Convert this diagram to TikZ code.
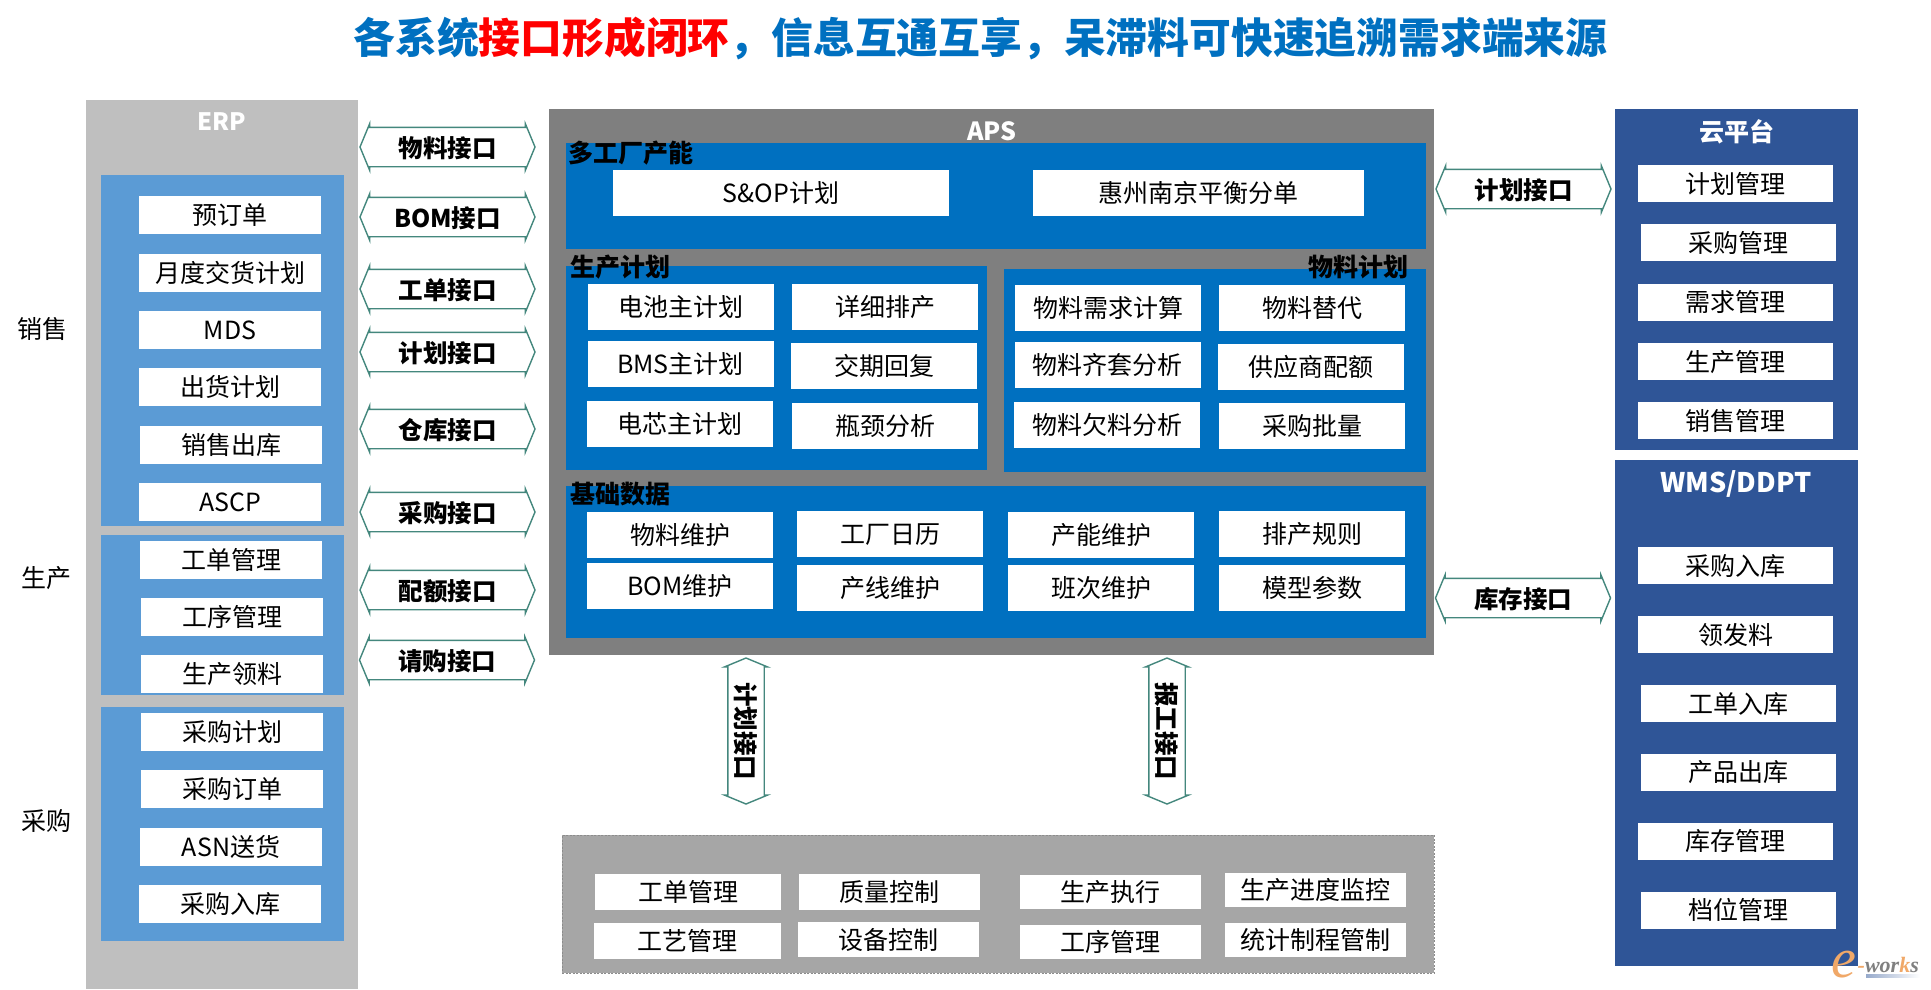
\documentclass[tikz,border=0pt]{standalone}
\usepackage{fontspec}
\setmainfont{Noto Sans CJK SC}
\newfontfamily\worksfont{Liberation Serif}
\usetikzlibrary{shapes.arrows}

\definecolor{erpgray}{HTML}{BFBFBF}
\definecolor{erpblue}{HTML}{5B9BD5}
\definecolor{apsgray}{HTML}{7F7F7F}
\definecolor{apsblue}{HTML}{0070C0}
\definecolor{mesgray}{HTML}{A6A6A6}
\definecolor{sysblue}{HTML}{2F5597}
\definecolor{ifteal}{HTML}{44877D}
\definecolor{logogray}{HTML}{808080}
\definecolor{logoorange}{HTML}{F0A868}

\begin{document}
\begin{tikzpicture}[x=1pt,y=-1pt]

		\tikzstyle{panel}=[rectangle,draw=none,inner sep=0mm]
		\tikzstyle{module}=[rectangle,
			fill=white,inner sep=0mm,
			text height=22.5pt,text depth=3pt,
			font=\fontsize{25pt}{30pt}\selectfont]
		\tikzstyle{erpmodule}=[module,minimum width=182pt,minimum height=38pt]
		\tikzstyle{apsmodule}=[module,minimum width=186pt,minimum height=46pt]
		\tikzstyle{mesmodule}=[module,minimum width=181pt,minimum height=34pt]
		\tikzstyle{sysmodule}=[module,minimum width=195pt,minimum height=37pt]
		\tikzstyle{heading}=[inner sep=0mm,font=\fontsize{25pt}{30pt}\selectfont\bfseries]
		\tikzstyle{sidelabel}=[inner sep=0mm,font=\fontsize{25pt}{30pt}\selectfont]
		\tikzstyle{interface}=[double arrow,
			draw=ifteal,fill=white,line width=1.4pt,
			double arrow head extend=3.5pt,double arrow tip angle=135,
			minimum height=175pt,inner xsep=0mm,inner ysep=4pt,
			text height=25pt,text depth=5pt,
			font=\fontsize{24.5pt}{30pt}\selectfont\bfseries]

		\useasboundingbox (0,0) rectangle (1931,989);

		\node[inner sep=0mm,font=\fontsize{41.8pt}{50pt}\selectfont\bfseries,text=apsblue]	(title)	at (980.5,39)
			{各系统\textcolor{red}{接口形成闭环}，信息互通互享，呆滞料可快速追溯需求端来源};

		% panels
		\node[panel,fill=erpgray,minimum width=272pt,minimum height=889pt]	(erp)	at (222,544.5)	{};
		\node[panel,fill=erpblue,minimum width=243pt,minimum height=351pt]	(sales)	at (222.5,350.5)	{};
		\node[panel,fill=erpblue,minimum width=243pt,minimum height=160pt]	(prod)	at (222.5,615)	{};
		\node[panel,fill=erpblue,minimum width=243pt,minimum height=234pt]	(purch)	at (222.5,824)	{};
		\node[panel,fill=apsgray,minimum width=885pt,minimum height=546pt]	(aps)	at (991.5,382)	{};
		\node[panel,fill=apsblue,minimum width=860pt,minimum height=106pt]	(multi)	at (996,196)	{};
		\node[panel,fill=apsblue,minimum width=421pt,minimum height=204pt]	(plan)	at (776.5,368)	{};
		\node[panel,fill=apsblue,minimum width=422pt,minimum height=203pt]	(material)	at (1215,370.5)	{};
		\node[panel,fill=apsblue,minimum width=860pt,minimum height=152pt]	(base)	at (996,562)	{};
		\node[panel,fill=mesgray,draw=gray!90,line width=1pt,dash pattern=on 2pt off 1.5pt,minimum width=872pt,minimum height=138pt]	(mes)	at (998,904)	{};
		\node[panel,fill=sysblue,minimum width=243pt,minimum height=341pt]	(cloud)	at (1736.5,279.5)	{};
		\node[panel,fill=sysblue,minimum width=243pt,minimum height=506pt]	(wms)	at (1736.5,713)	{};

		% headings
		\node[heading,text=white,font=\fontsize{24pt}{30pt}\selectfont\bfseries]	(erp-t)	at (222,122)	{ERP};
		\node[heading,text=white]	(aps-t)	at (992,131)	{APS};
		\node[heading]	(multi-t)	at (631,153)	{多工厂产能};
		\node[heading]	(plan-t)	at (620,267)	{生产计划};
		\node[heading]	(material-t)	at (1358,267)	{物料计划};
		\node[heading]	(base-t)	at (620,494)	{基础数据};
		\node[heading,text=white]	(cloud-t)	at (1737,132)	{云平台};
		\node[heading,text=white,font=\fontsize{27pt}{30pt}\selectfont\bfseries]	(wms-t)	at (1736,484)	{WMS/DDPT};

		\node[sidelabel]	(sales-l)	at (42,329)	{销售};
		\node[sidelabel]	(prod-l)	at (46,578)	{生产};
		\node[sidelabel]	(purch-l)	at (46,821)	{采购};

		% ERP
		\node[erpmodule]	(order)	at (230,215)	{预订单};
		\node[erpmodule]	(monthly)	at (230,273)	{月度交货计划};
		\node[erpmodule]	(mds)	at (230,330)	{MDS};
		\node[erpmodule]	(ship)	at (230,387)	{出货计划};
		\node[erpmodule]	(out)	at (231,445)	{销售出库};
		\node[erpmodule]	(ascp)	at (230,502)	{ASCP};
		\node[erpmodule]	(wo)	at (231,560)	{工单管理};
		\node[erpmodule]	(step)	at (232,617)	{工序管理};
		\node[erpmodule]	(pick)	at (232,674)	{生产领料};
		\node[erpmodule]	(pplan)	at (232,732)	{采购计划};
		\node[erpmodule]	(porder)	at (232,789)	{采购订单};
		\node[erpmodule]	(asn)	at (231,847)	{ASN送货};
		\node[erpmodule]	(pin)	at (230,904)	{采购入库};

		% APS
		\node[apsmodule,minimum width=336pt]	(sop)	at (781,193)	{S\&OP计划};
		\node[apsmodule,minimum width=331pt]	(split)	at (1198.5,193)	{惠州南京平衡分单};

		\node[apsmodule]	(battery)	at (681,307)	{电池主计划};
		\node[apsmodule]	(detail)	at (885,307)	{详细排产};
		\node[apsmodule]	(bms)	at (680.5,364)	{BMS主计划};
		\node[apsmodule]	(reply)	at (884,365.5)	{交期回复};
		\node[apsmodule]	(cell)	at (680,424)	{电芯主计划};
		\node[apsmodule]	(neck)	at (885,426)	{瓶颈分析};

		\node[apsmodule]	(mrp)	at (1108,308)	{物料需求计算};
		\node[apsmodule]	(subst)	at (1312,308)	{物料替代};
		\node[apsmodule]	(kit)	at (1107.5,365)	{物料齐套分析};
		\node[apsmodule]	(quota)	at (1311,366.5)	{供应商配额};
		\node[apsmodule]	(short)	at (1107,425)	{物料欠料分析};
		\node[apsmodule]	(batch)	at (1312,426)	{采购批量};

		\node[apsmodule]	(m-item)	at (680,535)	{物料维护};
		\node[apsmodule]	(calendar)	at (890,534)	{工厂日历};
		\node[apsmodule]	(capacity)	at (1101,535)	{产能维护};
		\node[apsmodule]	(rule)	at (1312,534)	{排产规则};
		\node[apsmodule]	(m-bom)	at (680,586)	{BOM维护};
		\node[apsmodule]	(line)	at (890,588)	{产线维护};
		\node[apsmodule]	(shift)	at (1101,587.5)	{班次维护};
		\node[apsmodule]	(param)	at (1312,587.5)	{模型参数};

		% MES
		\node[mesmodule,minimum width=186pt,minimum height=36pt]	(mes-wo)	at (688,892)	{工单管理};
		\node[mesmodule,minimum height=36pt]	(quality)	at (889.5,892)	{质量控制};
		\node[mesmodule]	(exec)	at (1110.5,891.5)	{生产执行};
		\node[mesmodule]	(monitor)	at (1315.5,889.5)	{生产进度监控};
		\node[mesmodule,minimum width=187pt,minimum height=36pt]	(craft)	at (687.5,941)	{工艺管理};
		\node[mesmodule,minimum height=35pt]	(device)	at (888.5,939.5)	{设备控制};
		\node[mesmodule]	(mes-step)	at (1110.5,941.5)	{工序管理};
		\node[mesmodule]	(spc)	at (1315.5,939.5)	{统计制程管制};

		% cloud and WMS
		\node[sysmodule]	(c-plan)	at (1735.5,183.5)	{计划管理};
		\node[sysmodule]	(c-purch)	at (1738.5,242.5)	{采购管理};
		\node[sysmodule]	(c-need)	at (1735.5,302)	{需求管理};
		\node[sysmodule]	(c-prod)	at (1735.5,361.5)	{生产管理};
		\node[sysmodule]	(c-sales)	at (1735.5,420.5)	{销售管理};
		\node[sysmodule]	(w-pin)	at (1735.5,565.5)	{采购入库};
		\node[sysmodule]	(w-issue)	at (1735.5,634.5)	{领发料};
		\node[sysmodule]	(w-wo)	at (1738.5,703.5)	{工单入库};
		\node[sysmodule]	(w-out)	at (1738.5,772)	{产品出库};
		\node[sysmodule]	(w-stock)	at (1735.5,841)	{库存管理};
		\node[sysmodule]	(w-bin)	at (1738.5,910)	{档位管理};

		% interfaces
		\node[interface]	(if-item)	at (447.5,147)	{物料接口};
		\node[interface]	(if-bom)	at (447.5,217)	{BOM接口};
		\node[interface]	(if-wo)	at (447.5,289)	{工单接口};
		\node[interface]	(if-plan)	at (447.5,352)	{计划接口};
		\node[interface]	(if-ware)	at (447.5,429)	{仓库接口};
		\node[interface]	(if-purch)	at (447.5,512)	{采购接口};
		\node[interface]	(if-quota)	at (447.5,590)	{配额接口};
		\node[interface]	(if-req)	at (447,660)	{请购接口};
		\node[interface]	(if-cloud)	at (1523.5,189)	{计划接口};
		\node[interface]	(if-stock)	at (1523,598)	{库存接口};
		\node[interface,rotate=-90,minimum height=146pt,inner ysep=2.5pt]	(if-down)	at (746,731)	{计划接口};
		\node[interface,rotate=-90,minimum height=146pt,inner ysep=2.5pt]	(if-up)	at (1167,731)	{报工接口};

		% logo
		\node[inner sep=0mm,anchor=base east,text=logoorange,font=\worksfont\fontsize{56pt}{56pt}\selectfont\itshape]	(logo-e)	at (1857,977)
			{e};
		\node[inner sep=0mm,anchor=base west,text=logogray,font=\worksfont\fontsize{22pt}{24pt}\selectfont\bfseries\itshape]	(logo-t)	at (1857.5,972)
			{\textcolor{logoorange}{-}wor\textcolor{logoorange}{k}s};
		\node[inner sep=0mm,left color=sysblue!50,right color=white,minimum width=54pt,minimum height=3pt]	(logo-b)	at (1893,976)	{};

	\end{tikzpicture}
\end{document}
